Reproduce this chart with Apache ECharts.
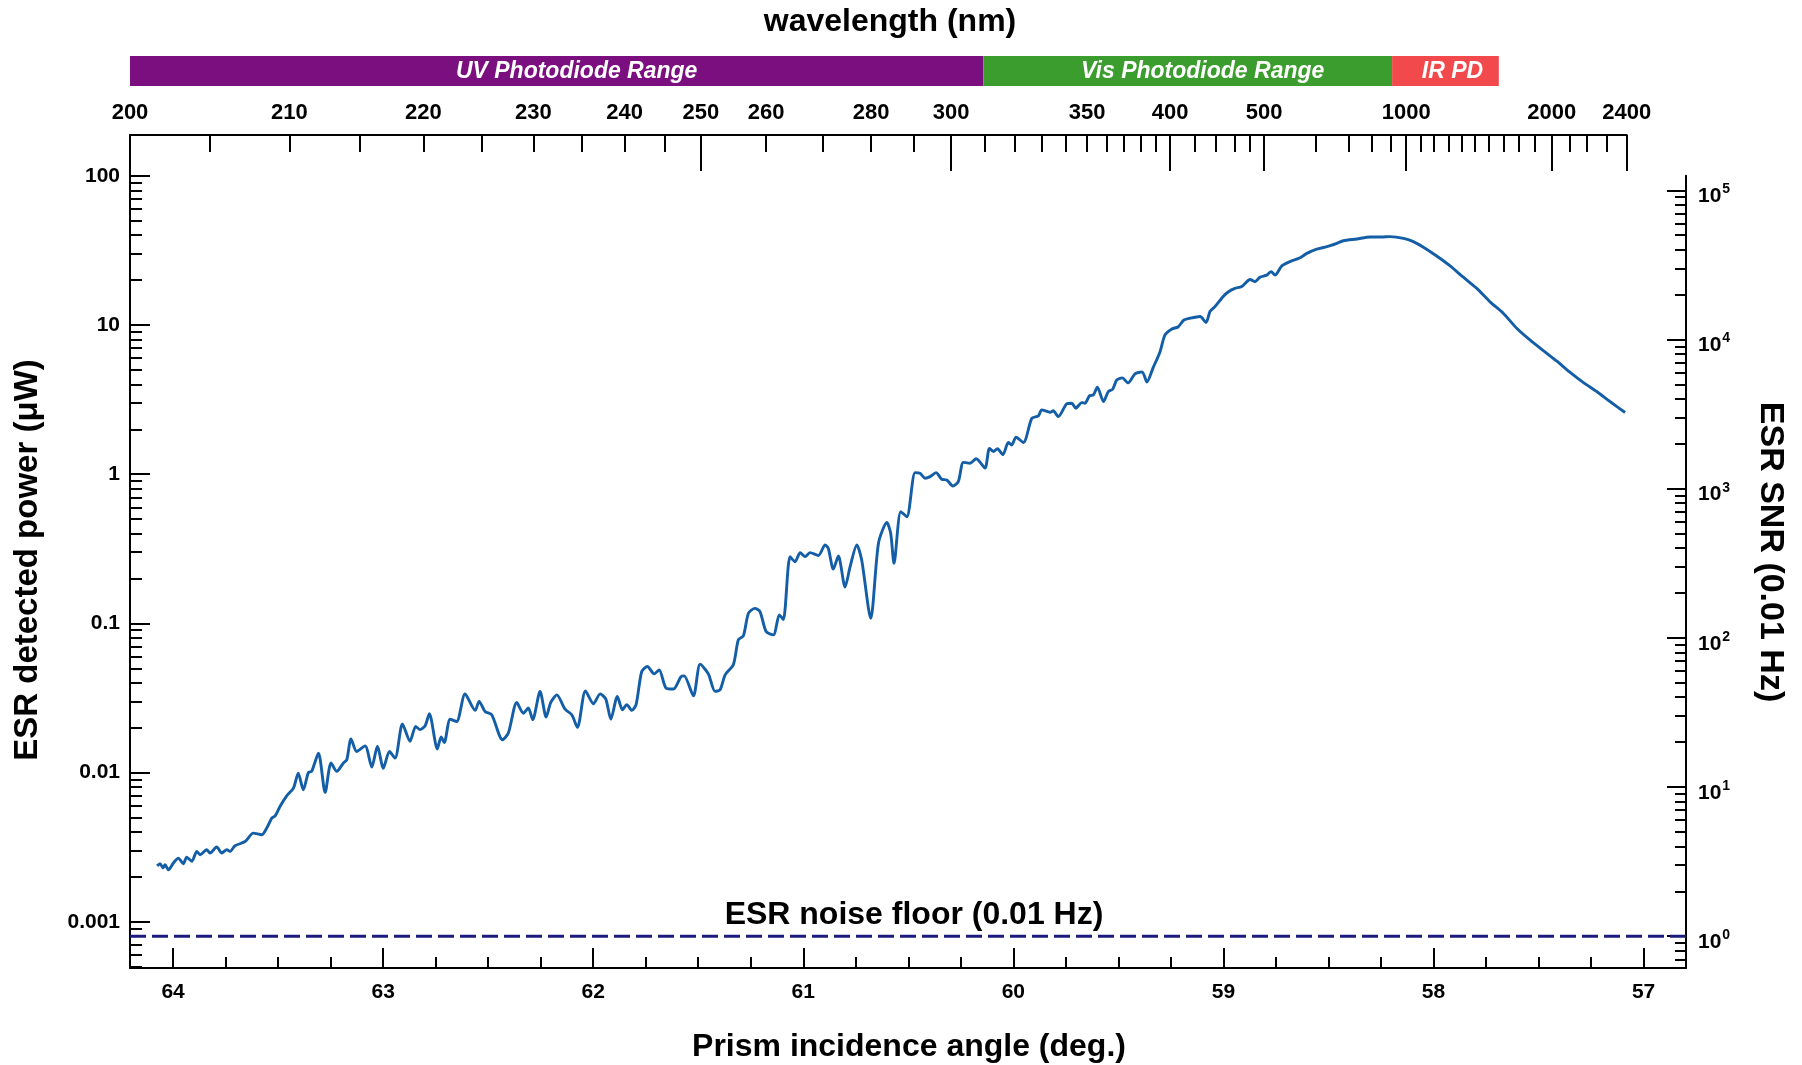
<!DOCTYPE html>
<html>
<head>
<meta charset="utf-8">
<title>ESR detected power vs prism incidence angle</title>
<script src="https://cdn.jsdelivr.net/npm/echarts@6.0.0/dist/echarts.min.js"></script>
<style>
  html, body { margin: 0; padding: 0; background: #ffffff; }
  #chart { width: 1802px; height: 1065px; }
</style>
</head>
<body>
<div id="chart"></div>
<script>
// ---- measured spectrum: prism incidence angle (deg) and ESR detected power (µW) ----
const angleDeg = [
  64.076, 64.062, 64.048, 64.038, 64.022, 63.999, 63.975, 63.951, 63.935, 63.911,
  63.887, 63.871, 63.840, 63.824, 63.792, 63.768, 63.744, 63.729, 63.705, 63.657,
  63.618, 63.578, 63.554, 63.530, 63.514, 63.491, 63.459, 63.427, 63.404, 63.380,
  63.356, 63.340, 63.308, 63.276, 63.248, 63.221, 63.189, 63.173, 63.153, 63.126,
  63.086, 63.054, 63.027, 62.999, 62.970, 62.943, 62.908, 62.872, 62.845, 62.824,
  62.800, 62.780, 62.742, 62.724, 62.709, 62.681, 62.650, 62.610, 62.562, 62.543,
  62.515, 62.483, 62.432, 62.404, 62.364, 62.332, 62.309, 62.288, 62.253, 62.224,
  62.202, 62.173, 62.134, 62.102, 62.075, 62.037, 61.999, 61.967, 61.940, 61.916,
  61.885, 61.861, 61.840, 61.816, 61.796, 61.769, 61.742, 61.710, 61.686, 61.653,
  61.618, 61.582, 61.567, 61.523, 61.491, 61.452, 61.420, 61.396, 61.372, 61.333,
  61.309, 61.285, 61.261, 61.230, 61.206, 61.177, 61.142, 61.114, 61.095, 61.063,
  61.039, 61.015, 60.991, 60.968, 60.928, 60.896, 60.881, 60.857, 60.833, 60.801,
  60.777, 60.745, 60.722, 60.679, 60.642, 60.602, 60.584, 60.568, 60.536, 60.507,
  60.468, 60.444, 60.420, 60.396, 60.368, 60.341, 60.317, 60.288, 60.262, 60.238,
  60.206, 60.177, 60.135, 60.114, 60.095, 60.076, 60.050, 60.024, 60.008, 59.987,
  59.952, 59.912, 59.881, 59.865, 59.825, 59.810, 59.786, 59.746, 59.722, 59.703,
  59.674, 59.659, 59.638, 59.619, 59.600, 59.571, 59.548, 59.527, 59.508, 59.482,
  59.454, 59.421, 59.387, 59.364, 59.335, 59.302, 59.278, 59.245, 59.216, 59.188,
  59.159, 59.111, 59.083, 59.064, 59.040, 59.000, 58.976, 58.945, 58.913, 58.873,
  58.850, 58.826, 58.794, 58.773, 58.754, 58.722, 58.683, 58.635, 58.603, 58.556,
  58.508, 58.460, 58.429, 58.365, 58.302, 58.246, 58.207, 58.143, 58.096, 58.048,
  57.985, 57.921, 57.858, 57.794, 57.731, 57.668, 57.604, 57.541, 57.477, 57.414,
  57.351, 57.286, 57.223, 57.160, 57.088
];
const powerUW = [
  0.00237, 0.00245, 0.00230, 0.00241, 0.00223, 0.00247, 0.00267, 0.00245, 0.00271, 0.00254,
  0.00296, 0.00281, 0.00304, 0.00289, 0.00317, 0.00289, 0.00304, 0.00296, 0.00323, 0.00345,
  0.00393, 0.00383, 0.00425, 0.00495, 0.00513, 0.00593, 0.00698, 0.00787, 0.00992, 0.00766,
  0.0100, 0.0102, 0.0135, 0.00735, 0.0116, 0.0102, 0.0116, 0.0122, 0.0168, 0.01385,
  0.0151, 0.0109, 0.0150, 0.0107, 0.01385, 0.0125, 0.0212, 0.0162, 0.0204, 0.0194,
  0.0206, 0.0248, 0.0144, 0.0173, 0.0159, 0.0228, 0.0220, 0.0337, 0.0261, 0.0300,
  0.0257, 0.0244, 0.0166, 0.0184, 0.0295, 0.0250, 0.0271, 0.0226, 0.0350, 0.0236,
  0.0295, 0.0332, 0.0266, 0.0244, 0.0201, 0.0353, 0.0289, 0.0337, 0.0311, 0.0228,
  0.0324, 0.0264, 0.0285, 0.0261, 0.0285, 0.0476, 0.0514, 0.0459, 0.0488, 0.0368,
  0.0363, 0.0440, 0.0445, 0.0327, 0.0533, 0.0459, 0.0350, 0.0359, 0.0452, 0.0528,
  0.0776, 0.0825, 0.117, 0.126, 0.120, 0.0882, 0.0838, 0.114, 0.106, 0.280,
  0.259, 0.298, 0.280, 0.298, 0.285, 0.336, 0.319, 0.231, 0.283, 0.175,
  0.240, 0.336, 0.266, 0.108, 0.345, 0.474, 0.402, 0.253, 0.561, 0.519,
  1.025, 1.015, 0.940, 0.963, 1.025, 0.925, 0.915, 0.834, 0.891, 1.20,
  1.185, 1.27, 1.10, 1.49, 1.42, 1.48, 1.35, 1.63, 1.57, 1.77,
  1.63, 2.37, 2.46, 2.70, 2.60, 2.66, 2.43, 2.96, 2.99, 2.77,
  3.02, 2.99, 3.35, 3.40, 3.83, 3.07, 3.58, 3.71, 4.28, 4.42,
  4.09, 4.70, 4.85, 4.15, 5.16, 6.60, 8.58, 9.41, 9.70, 10.8,
  11.1, 11.4, 10.4, 12.3, 13.3, 15.6, 16.7, 17.6, 18.1, 20.2,
  19.5, 20.9, 21.6, 22.8, 21.6, 24.9, 26.6, 28.2, 30.2, 32.2,
  33.5, 35.3, 36.7, 37.7, 38.9, 38.9, 39.1, 38.1, 36.2, 33.2,
  29.0, 24.9, 20.9, 17.6, 14.3, 12.0, 9.51, 7.94, 6.73, 5.74,
  4.83, 4.11, 3.58, 3.07, 2.59
];

// ESR noise floor at 0.01 Hz bandwidth (µW); SNR = power / noise floor
const noiseFloorUW = 0.0008;
const noiseFloorLabel = 'ESR noise floor (0.01 Hz)';

// ---- axis ticks ----
const angleTicks = [57, 58, 59, 60, 61, 62, 63, 64];
const powerTicks = [0.001, 0.01, 0.1, 1, 10, 100];
const powerTickLabels = ['0.001', '0.01', '0.1', '1', '10', '100'];
const snrTicks = [1, 10, 100, 1000, 10000, 100000];

// wavelength scale on top: wavelength (nm) and the incidence angle (deg) where it falls
const wavelengthTicksNm = [
  200, 205, 210, 215, 220, 225, 230, 235, 240, 245,
  250, 260, 270, 280, 290, 300, 310, 320, 330, 340,
  350, 360, 370, 380, 390, 400, 420, 440, 460, 480,
  500, 600, 700, 800, 900, 1000, 1100, 1200, 1300, 1400,
  1500, 1600, 1700, 1800, 1900, 2000, 2100, 2200, 2300, 2400
];
const wavelengthTickAngles = [
  64.205, 63.824, 63.446, 63.110, 62.808, 62.530, 62.285, 62.054, 61.851, 61.661,
  61.487, 61.177, 60.909, 60.677, 60.474, 60.296, 60.135, 59.995, 59.867, 59.752,
  59.649, 59.555, 59.473, 59.393, 59.321, 59.254, 59.138, 59.036, 58.948, 58.873,
  58.806, 58.559, 58.403, 58.294, 58.203, 58.130, 58.059, 57.997, 57.929, 57.865,
  57.802, 57.736, 57.667, 57.594, 57.517, 57.437, 57.353, 57.270, 57.175, 57.080
];
const wavelengthLabelsNm = [200, 210, 220, 230, 240, 250, 260, 280, 300, 350, 400, 500, 1000, 2000, 2400];
const wavelengthMajorNm = [250, 300, 400, 500, 1000, 2000, 2400];

// photodiode ranges, as incidence-angle spans (deg)
const bandNames = ['UV Photodiode Range', 'Vis Photodiode Range', 'IR PD'];
const bandStartDeg = [64.205, 60.143, 58.197];
const bandEndDeg = [60.143, 58.197, 57.689];

// ---- styling / layout ----
const bandColors = ['#7c0f7f', '#3b9d2e', '#f24a4c'];
const bandLabelShift = [20, 15, 7];
const PLOT = { left: 130, right: 1686, top: 135, bottom: 968 };
const X_MIN = 56.798, X_MAX = 64.205;
const Y_MIN = 0.00049, Y_MAX = 187.7;
const W = 1802, H = 1065;
const FONT = 'Liberation Sans';

const log10 = Math.log10;
const plotH = PLOT.bottom - PLOT.top;
// right (SNR) axis starts at the 100 µW level of the left axis
const snrTop = PLOT.top + plotH * (log10(Y_MAX) - log10(100)) / (log10(Y_MAX) - log10(Y_MIN));
const SNR_MIN = Y_MIN / noiseFloorUW, SNR_MAX = 100 / noiseFloorUW;
// wavelength axis spans 200 nm .. 2400 nm
const wlMinDeg = wavelengthTickAngles[wavelengthTickAngles.length - 1];
const wlRight = PLOT.left + (X_MAX - wlMinDeg) / (X_MAX - X_MIN) * (PLOT.right - PLOT.left);

const angleOf = nm => wavelengthTickAngles[wavelengthTicksNm.indexOf(nm)];
const wlLabelAngles = wavelengthLabelsNm.map(angleOf);
const wlMajorAngles = wavelengthMajorNm.map(angleOf);

const angleMinor = [];
angleTicks.forEach(a => { [0.25, 0.5, 0.75].forEach(f => angleMinor.push(a - f)); });
const filterRange = (arr, lo, hi) => arr.filter(v => v >= lo && v <= hi);
const decadeMinor = (lo, hi) => {
  const out = [];
  for (let e = -5; e <= 6; e++) for (let m = 2; m <= 9; m++) out.push(+(m * Math.pow(10, e)).toPrecision(3));
  return filterRange(out, lo, hi);
};
const powerMinor = decadeMinor(Y_MIN, Y_MAX).filter(v => v < 100);
const snrMinor = [0.7, 0.8, 0.9].concat(decadeMinor(1, 100000)).filter(v => v >= SNR_MIN);

const black = '#000000';
const axisLine = { show: true, onZero: false, lineStyle: { color: black, width: 2 } };
const noLine = { show: false, onZero: false };
const tickStyle = { color: black, width: 2 };
const numLabel = { color: black, fontFamily: FONT, fontWeight: 'bold', fontSize: 21 };
const ticks = (len, values) => ({ show: true, inside: true, length: len, lineStyle: tickStyle, customValues: values });

// every tick set lives in its own grid so that axes never compete for the same side
const mainRect = { left: PLOT.left, right: W - PLOT.right, top: PLOT.top, bottom: H - PLOT.bottom };
const wlRect = { left: PLOT.left, right: W - wlRight, top: PLOT.top, height: 40 };
const snrRect = { left: PLOT.left, right: W - PLOT.right, top: snrTop, bottom: H - PLOT.bottom };
const bandRect = { left: PLOT.left, right: W - PLOT.right, top: 56, height: 30 };
const gridOf = r => Object.assign({ containLabel: false, outerBoundsMode: 'none' }, r);

const angleAxis = (gi, extra) => Object.assign({
  gridIndex: gi, type: 'value', min: X_MIN, max: X_MAX, inverse: true, splitLine: { show: false }
}, extra);
const wlAxis = (gi, extra) => Object.assign({
  gridIndex: gi, type: 'value', position: 'top', min: wlMinDeg, max: X_MAX, inverse: true, splitLine: { show: false }
}, extra);
const powerAxis = (gi, extra) => Object.assign({
  gridIndex: gi, type: 'log', logBase: 10, position: 'left', min: Y_MIN, max: Y_MAX, splitLine: { show: false }
}, extra);
const snrAxis = (gi, extra) => Object.assign({
  gridIndex: gi, type: 'log', logBase: 10, position: 'right', min: SNR_MIN, max: SNR_MAX, splitLine: { show: false }
}, extra);
const hiddenX = gi => ({ gridIndex: gi, type: 'value', min: X_MIN, max: X_MAX, inverse: true, show: false, axisLine: { onZero: false } });
const hiddenY = gi => ({ gridIndex: gi, type: 'value', min: 0, max: 1, show: false, axisLine: { onZero: false } });

const chart = echarts.init(document.getElementById('chart'), null, { renderer: 'canvas', width: W, height: H });

chart.setOption({
  backgroundColor: '#ffffff',
  animation: false,
  grid: [
    gridOf(mainRect),   // 0: data, angle major, power major
    gridOf(mainRect),   // 1: angle minor, power minor
    gridOf(wlRect),     // 2: wavelength short ticks + labels
    gridOf(wlRect),     // 3: wavelength long ticks
    gridOf(snrRect),    // 4: SNR major
    gridOf(snrRect),    // 5: SNR minor
    gridOf(bandRect)    // 6: photodiode ranges
  ],
  xAxis: [
    angleAxis(0, {
      position: 'bottom', axisLine: axisLine, axisTick: ticks(20, angleTicks),
      axisLabel: Object.assign({ customValues: angleTicks, margin: 14, formatter: v => String(Math.round(v)) }, numLabel)
    }),
    angleAxis(1, { position: 'bottom', axisLine: noLine, axisLabel: { show: false }, axisTick: ticks(11, angleMinor) }),
    wlAxis(2, {
      axisLine: axisLine, axisTick: ticks(17, wavelengthTickAngles),
      axisLabel: {
        customValues: wlLabelAngles, margin: 11,
        color: black, fontFamily: FONT, fontWeight: 'bold', fontSize: 22,
        formatter: v => {
          let best = 0;
          wlLabelAngles.forEach((a, i) => { if (Math.abs(a - v) < Math.abs(wlLabelAngles[best] - v)) best = i; });
          return String(wavelengthLabelsNm[best]);
        }
      }
    }),
    wlAxis(3, { axisLine: noLine, axisLabel: { show: false }, axisTick: ticks(36, wlMajorAngles) }),
    hiddenX(4),
    hiddenX(5),
    hiddenX(6)
  ],
  yAxis: [
    powerAxis(0, {
      axisLine: axisLine, axisTick: ticks(20, powerTicks),
      axisLabel: Object.assign({
        customValues: powerTicks, margin: 10,
        formatter: v => {
          let best = 0;
          powerTicks.forEach((p, i) => { if (Math.abs(log10(p) - log10(v)) < Math.abs(log10(powerTicks[best]) - log10(v))) best = i; });
          return powerTickLabels[best];
        }
      }, numLabel)
    }),
    powerAxis(1, { axisLine: noLine, axisLabel: { show: false }, axisTick: ticks(12, powerMinor) }),
    hiddenY(2),
    hiddenY(3),
    snrAxis(4, {
      axisLine: axisLine, axisTick: ticks(19, snrTicks),
      axisLabel: {
        customValues: snrTicks, margin: 12, padding: [12, 0, 0, 0],
        formatter: v => '{b|10}{s|' + Math.round(log10(v)) + '}',
        rich: {
          b: { color: black, fontFamily: FONT, fontWeight: 'bold', fontSize: 21, lineHeight: 28 },
          s: { color: black, fontFamily: FONT, fontWeight: 'bold', fontSize: 14, lineHeight: 14, verticalAlign: 'top', padding: [0, 0, 0, 1] }
        }
      }
    }),
    snrAxis(5, { axisLine: noLine, axisLabel: { show: false }, axisTick: ticks(11, snrMinor) }),
    hiddenY(6)
  ],
  graphic: [
    { type: 'text', x: 890, y: 22, style: { text: 'wavelength (nm)', fill: black, font: 'bold 32px "' + FONT + '"', align: 'center', verticalAlign: 'middle' } },
    { type: 'text', x: 909, y: 1047, style: { text: 'Prism incidence angle (deg.)', fill: black, font: 'bold 32px "' + FONT + '"', align: 'center', verticalAlign: 'middle' } },
    { type: 'text', x: 28, y: 560, rotation: Math.PI / 2, style: { text: 'ESR detected power (\u03bcW)', fill: black, font: 'bold 33px "' + FONT + '"', align: 'center', verticalAlign: 'middle' } },
    { type: 'text', x: 1770, y: 552, rotation: -Math.PI / 2, style: { text: 'ESR SNR (0.01 Hz)', fill: black, font: 'bold 34px "' + FONT + '"', align: 'center', verticalAlign: 'middle' } },
    { type: 'text', x: 914, y: 915, style: { text: noiseFloorLabel, fill: black, font: 'bold 32px "' + FONT + '"', align: 'center', verticalAlign: 'middle' } }
  ],
  series: [
    {
      type: 'custom', xAxisIndex: 6, yAxisIndex: 6, silent: true,
      data: bandNames.map((n, i) => ({ name: n, value: [bandStartDeg[i], bandEndDeg[i]] })),
      renderItem: (params, api) => {
        const i = params.dataIndex;
        const p0 = api.coord([api.value(0), 1]);
        const p1 = api.coord([api.value(1), 0]);
        const x = Math.min(p0[0], p1[0]), w = Math.abs(p1[0] - p0[0]);
        const y = Math.min(p0[1], p1[1]), h = Math.abs(p1[1] - p0[1]);
        return {
          type: 'group',
          children: [
            { type: 'rect', shape: { x: x, y: y, width: w, height: h }, style: { fill: bandColors[i] } },
            { type: 'text', x: x + w / 2 + bandLabelShift[i], y: y + h / 2 + 1,
              style: { text: bandNames[i], fill: '#ffffff', font: 'italic bold 23px "' + FONT + '"', align: 'center', verticalAlign: 'middle' } }
          ]
        };
      }
    },
    {
      name: noiseFloorLabel, type: 'line', xAxisIndex: 0, yAxisIndex: 0, silent: true,
      data: [[X_MAX, noiseFloorUW], [X_MIN, noiseFloorUW]],
      showSymbol: false, symbol: 'none', clip: false,
      lineStyle: { color: '#1c1c7e', width: 3, type: [16, 6] }
    },
    {
      name: 'ESR detected power', type: 'line', xAxisIndex: 0, yAxisIndex: 0,
      data: angleDeg.map((a, i) => [a, powerUW[i]]),
      showSymbol: false, symbol: 'none', smooth: 0.25,
      lineStyle: { color: '#135ea6', width: 2.9 }
    }
  ]
});
</script>
</body>
</html>
